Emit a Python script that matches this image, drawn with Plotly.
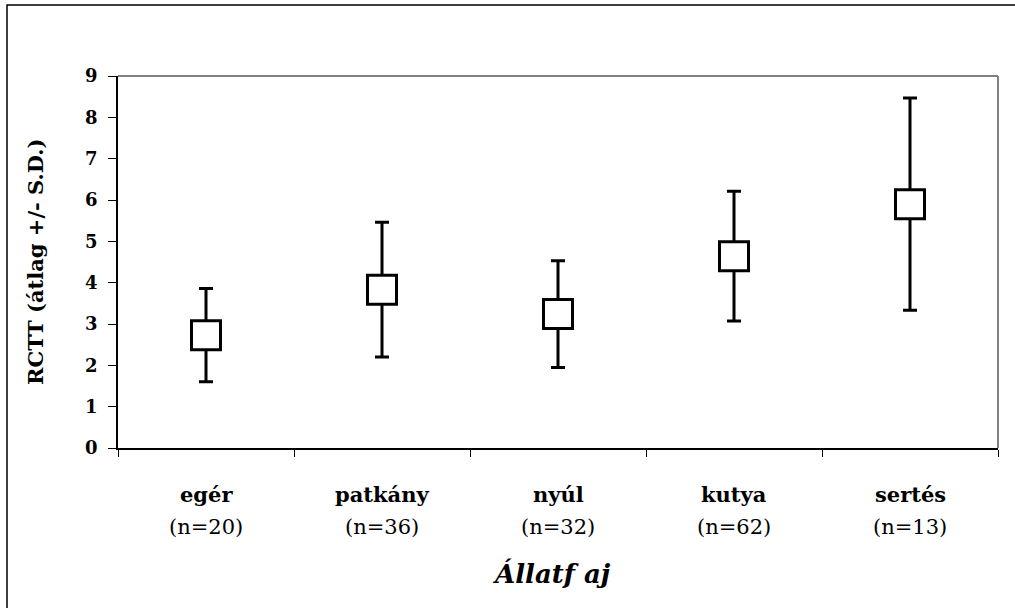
import plotly.graph_objects as go

categories = ["egér", "patkány", "nyúl", "kutya", "sertés"]
n_counts = ["(n=20)", "(n=36)", "(n=32)", "(n=62)", "(n=13)"]
means = [2.73, 3.83, 3.24, 4.64, 5.90]
sds = [1.13, 1.63, 1.29, 1.57, 2.57]
y_ticks = [0, 1, 2, 3, 4, 5, 6, 7, 8, 9]

FONT = "DejaVu Serif"
W, H = 1015, 608
L, R, T, B = 118, 17, 76, 160
pw, ph = W - L - R, H - T - B

fig = go.Figure()
fig.add_trace(go.Scatter(
    x=categories, y=means, mode="markers",
    marker=dict(symbol="square", size=29, color="white",
                line=dict(color="black", width=3)),
    error_y=dict(type="data", array=sds, visible=True, color="black",
                 thickness=3, width=7),
    showlegend=False, hoverinfo="skip",
))

annotations = []
for c, n in zip(categories, n_counts):
    annotations.append(dict(x=c, xref="x", y=0, yref="paper", yshift=-46,
                            text="<b>" + c + "</b>", showarrow=False,
                            yanchor="middle",
                            font=dict(family=FONT, size=21, color="black")))
    annotations.append(dict(x=c, xref="x", y=0, yref="paper", yshift=-79,
                            text=n, showarrow=False, yanchor="middle",
                            font=dict(family=FONT, size=21, color="black")))
annotations.append(dict(x=(551 - L) / pw, xref="paper", y=0, yref="paper",
                        yshift=-125,
                        text="<b><i>Állatf aj</i></b>", showarrow=False,
                        yanchor="middle",
                        font=dict(family=FONT, size=26, color="black")))
annotations.append(dict(x=(35 - L) / pw, xref="paper", y=0.5, yref="paper",
                        text="<b>RCTT (átlag +/- S.D.)</b>", showarrow=False,
                        textangle=-90, xanchor="center", yanchor="middle",
                        font=dict(family=FONT, size=21, color="black")))

shapes = [
    dict(type="line", xref="paper", yref="paper", x0=0, x1=1, y0=1, y1=1,
         line=dict(color="#808080", width=2)),
    dict(type="line", xref="paper", yref="paper", x0=1, x1=1, y0=0, y1=1,
         line=dict(color="#808080", width=2)),
    dict(type="rect", xref="paper", yref="paper",
         x0=(7 - L) / pw, x1=1.1, y0=-0.6, y1=(H - B - 5) / ph,
         line=dict(color="black", width=1.5), layer="below"),
]

fig.update_layout(
    width=W, height=H,
    margin=dict(l=L, r=R, t=T, b=B, pad=0),
    plot_bgcolor="white", paper_bgcolor="white",
    font=dict(family=FONT, color="black"),
    xaxis=dict(type="category", range=[-0.5, 4.5], showgrid=False,
               zeroline=False, showline=True, linecolor="black", linewidth=1.5,
               ticks="outside", tickson="boundaries", ticklen=7,
               tickcolor="black", tickwidth=1, showticklabels=False),
    yaxis=dict(range=[0, 9], tickvals=y_ticks,
               ticktext=["<b>%d</b>" % v for v in y_ticks],
               showgrid=False, zeroline=False, showline=True,
               linecolor="black", linewidth=1.5, ticks="outside", ticklen=8,
               tickcolor="black", tickwidth=1, ticklabelstandoff=7,
               tickfont=dict(family=FONT, size=18, color="black")),
    annotations=annotations, shapes=shapes,
)

fig.write_html("out.html")
